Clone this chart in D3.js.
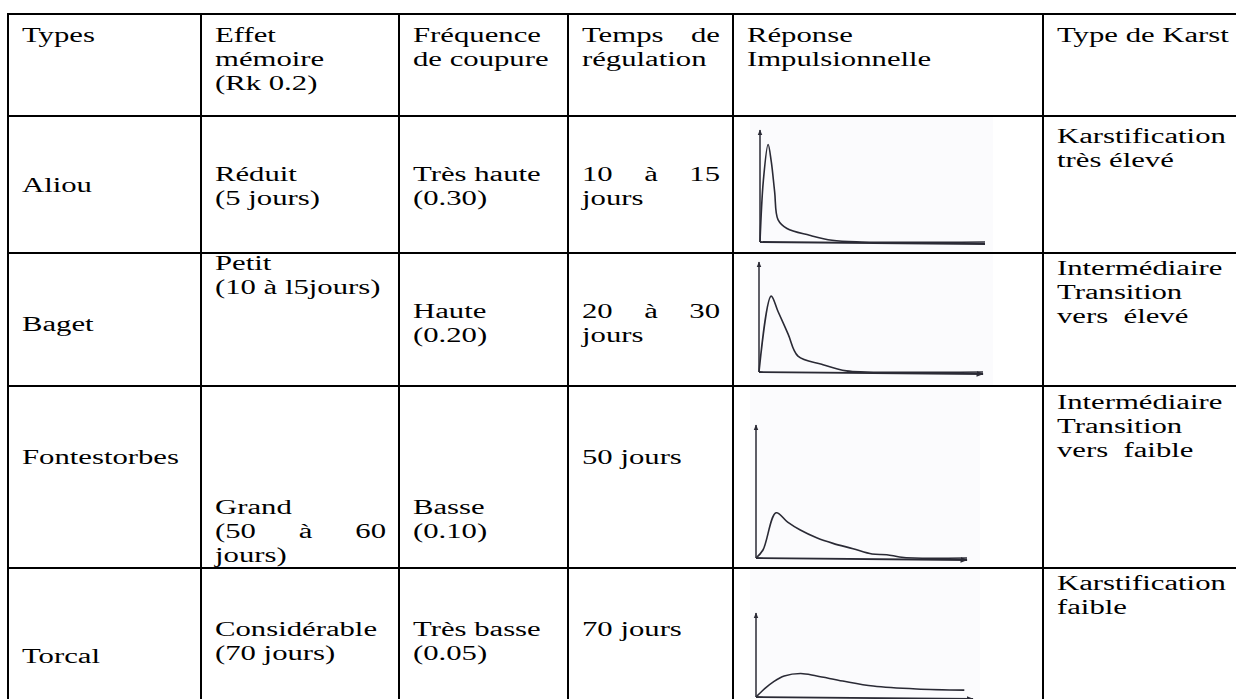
<!DOCTYPE html>
<html>
<head>
<meta charset="utf-8">
<script src="https://cdn.jsdelivr.net/npm/d3@7"></script>
<style>
  body { margin: 0; background: #fff; }
  svg { display: block; }
  text { font-family: "Liberation Serif", "Times New Roman", serif; font-size: 21.6px; fill: #000; white-space: pre; }
</style>
</head>
<body>
<div id="tableDiv"></div>
<script>
// ---- data ----
const headers = [["Types"], ["Effet", "mémoire", "(Rk 0.2)"], ["Fréquence", "de coupure"],
                 ["Temps de", "régulation"], ["Réponse", "Impulsionnelle"], ["Type de Karst"]];
const sites = ["Aliou", "Baget", "Fontestorbes", "Torcal"];
const memoire = [["Réduit", "(5 jours)"], ["Petit", "(10 à l5jours)"], ["Grand", "(50 à 60", "jours)"], ["Considérable", "(70 jours)"]];
const frequence = [["Très haute", "(0.30)"], ["Haute", "(0.20)"], ["Basse", "(0.10)"], ["Très basse", "(0.05)"]];
const regulation = [["10 à 15", "jours"], ["20 à 30", "jours"], ["50 jours"], ["70 jours"]];
const karst = [["Karstification", "très élevé"], ["Intermédiaire", "Transition", "vers  élevé"],
               ["Intermédiaire", "Transition", "vers  faible"], ["Karstification", "faible"]];

// impulse responses, [time, flow] in % of the sketch axes
const aliouCurve = [[0,0],[1.5,55],[3.6,87],[5,72],[6.5,45],[8,20],[12,12],[22,6],[32,1.5],[45,0],[100,0]];
const bagetCurve = [[0,0],[5.4,69],[8.5,55],[13,34.5],[17.4,14.5],[28,7],[39,1],[48,0],[100,0]];
const fontestorbesCurve = [[0,0],[3.3,6],[9.5,34],[15,27],[21,21],[29,15],[36.5,11],[46,7],[55,3],[62,2.5],[68,0.8],[75,0],[100,0]];
const torcalCurve = [[0,0],[4,10],[8,18],[13,25],[20.6,28],[28,25],[40,19],[54,13],[74,9.5],[96,8.2]];
const responses = [aliouCurve, bagetCurve, fontestorbesCurve, torcalCurve];

// ---- layout ----
const W = 1236, H = 699;
const colX = [8, 201, 399, 568, 733, 1043, 1250];
const rowY = [14, 116, 253, 386, 568, 710];
const lineH = 24, padL = 14, padR = 13, sx = 1.422;
const justifyCols = [1, 3];
const firstBase = [
  [42, 42, 42, 42, 42, 42],
  [192, 181, 181, 181, 0, 143],
  [331, 270, 318, 318, 0, 275],
  [464, 514, 514, 464, 0, 409],
  [663, 636, 636, 636, 0, 590]
];
const plotBox = [
  {x0: 760, x1: 985, yb: 242, yt: 130, arrowX: false, bg: [750, 117, 243, 135]},
  {x0: 759, x1: 983, yb: 372, yt: 262, arrowX: true, bg: [750, 254, 243, 131]},
  {x0: 756, x1: 967, yb: 558, yt: 425, arrowX: true, bg: [750, 387, 230, 181]},
  {x0: 756, x1: 973, yb: 697, yt: 613, arrowX: true, bg: [750, 569, 230, 130]}
];

let svg = d3.select("#tableDiv").append("svg").attr("width", W).attr("height", H);

let defs = svg.append("defs");
defs.append("marker")
    .attr("id", "arrow")
    .attr("viewBox", "0 0 10 10")
    .attr("refX", 9).attr("refY", 5)
    .attr("markerWidth", 4).attr("markerHeight", 4)
    .attr("orient", "auto")
  .append("path")
    .attr("d", "M0,1 L10,5 L0,9 Z")
    .attr("fill", "#2a2a35");

// scanned sketch backgrounds
plotBox.forEach(function(b) {
  svg.append("rect")
    .attr("x", b.bg[0]).attr("y", b.bg[1]).attr("width", b.bg[2]).attr("height", b.bg[3])
    .attr("fill", "#fbfbfd");
});

// table grid
let grid = svg.append("g");
rowY.forEach(function(y) {
  grid.append("line").attr("x1", colX[0] - 1).attr("x2", W + 5).attr("y1", y).attr("y2", y)
      .attr("stroke", "#000").attr("stroke-width", 2);
});
colX.forEach(function(x) {
  grid.append("line").attr("x1", x).attr("x2", x).attr("y1", rowY[0]).attr("y2", H + 5)
      .attr("stroke", "#000").attr("stroke-width", 2);
});

// cell text
let textG = svg.append("g");

function writeCell(lines, col, base) {
  let left = colX[col] + padL, right = colX[col + 1] - padR;
  lines.forEach(function(line, i) {
    let y = base + i * lineH;
    let words = line.split(" ").filter(function(w) { return w.length; });
    let justify = justifyCols.indexOf(col) >= 0 && i < lines.length - 1 && words.length > 1;
    if (!justify) {
      textG.append("text")
        .attr("transform", "translate(" + left + "," + y + ") scale(" + sx + ",1)")
        .text(line);
      return;
    }
    let nodes = words.map(function(w) {
      return textG.append("text").text(w);
    });
    let widths = nodes.map(function(n) { return n.node().getComputedTextLength() * sx; });
    let gap = (right - left - d3.sum(widths)) / (words.length - 1);
    let x = left;
    nodes.forEach(function(n, k) {
      n.attr("transform", "translate(" + x + "," + y + ") scale(" + sx + ",1)");
      x += widths[k] + gap;
    });
  });
}

headers.forEach(function(h, c) { writeCell(h, c, firstBase[0][c]); });
sites.forEach(function(s, r) {
  writeCell([s], 0, firstBase[r + 1][0]);
  writeCell(memoire[r], 1, firstBase[r + 1][1]);
  writeCell(frequence[r], 2, firstBase[r + 1][2]);
  writeCell(regulation[r], 3, firstBase[r + 1][3]);
  writeCell(karst[r], 5, firstBase[r + 1][5]);
});

// impulse response sketches
responses.forEach(function(curve, r) {
  let b = plotBox[r];
  let g = svg.append("g");

  let xScale = d3.scaleLinear().domain([0, 100]).range([b.x0, b.x1]);
  let yScale = d3.scaleLinear().domain([0, 100]).range([b.yb, b.yt]);

  g.append("line")
    .attr("x1", xScale(0)).attr("y1", yScale(0)).attr("x2", xScale(0)).attr("y2", yScale(100))
    .attr("stroke", "#2a2a35").attr("stroke-width", 1.5).attr("marker-end", "url(#arrow)");
  g.append("line")
    .attr("x1", xScale(0)).attr("y1", yScale(0)).attr("x2", xScale(100)).attr("y2", yScale(0) + 2)
    .attr("stroke", "#2a2a35").attr("stroke-width", 1.8)
    .attr("marker-end", b.arrowX ? "url(#arrow)" : null);

  let valueline = d3.line()
    .x(function(d) { return xScale(d[0]); })
    .y(function(d) { return yScale(d[1]); })
    .curve(d3.curveCatmullRom.alpha(0.5));

  g.append("path")
    .datum(curve)
    .attr("d", valueline)
    .attr("fill", "none")
    .attr("stroke", "#2a2a35")
    .attr("stroke-width", 1.6);
});
</script>
</body>
</html>
